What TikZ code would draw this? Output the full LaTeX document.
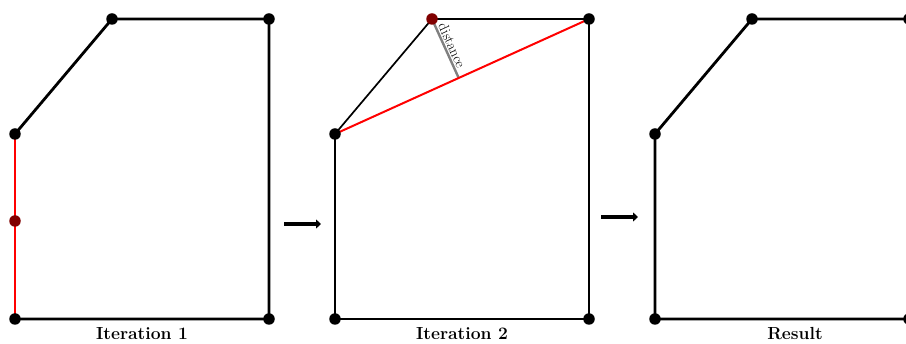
\documentclass[tikz,border=0pt]{standalone}
\usepackage{fontspec}
\setmainfont{Latin Modern Roman}
\usetikzlibrary{arrows.meta,calc}
\definecolor{darkred}{RGB}{128,0,0}
\begin{document}
\begin{tikzpicture}[x=1pt,y=1pt,
  dot/.style={circle,fill=black,inner sep=0pt,minimum size=11.5pt},
  reddot/.style={circle,fill=darkred,inner sep=0pt,minimum size=11.5pt},
  thickedge/.style={line width=2.8pt,line join=round},
  thinedge/.style={line width=1.7pt,line join=round},
  bigarrow/.style={line width=4.4pt,-{Triangle[length=5pt,width=9pt]}},
  captext/.style={font=\fontsize{17.5}{20}\selectfont\bfseries,text=black},
  disttext/.style={font=\fontsize{14.5}{16}\selectfont,text=black,inner sep=1.2pt}]
\useasboundingbox (0,0) rectangle (906,344);
\clip (0,0) rectangle (906,344);
% panel 1
\coordinate (a1) at (15,25);
\coordinate (b1) at (15,210);
\coordinate (c1) at (112,325);
\coordinate (d1) at (269,325);
\coordinate (e1) at (269,25);
\coordinate (m1) at (15,123);
\draw[thickedge] (b1) -- (c1) -- (d1) -- (e1) -- (a1);
\draw[line width=2.8pt,black!70!red] (b1) -- (a1);
\draw[line width=1.8pt,red] (b1) -- (a1);
\foreach \n in {a1,b1,c1,d1,e1} \node[dot] (n\n) at (\n) {};
\node[reddot] (nm1) at (m1) {};
\node[captext,anchor=base] (t1) at (142,4) {Iteration 1};
% arrow 1
\coordinate (p1s) at (284,120);
\coordinate (p1e) at (321,120);
\draw[bigarrow] (p1s) -- (p1e);
% panel 2
\coordinate (a2) at (335,25);
\coordinate (b2) at (335,210);
\coordinate (c2) at (432,325);
\coordinate (d2) at (589,325);
\coordinate (e2) at (589,25);
\coordinate (f2) at ($(b2)!(c2)!(d2)$);
\draw[thinedge] (b2) -- (c2) -- (d2) -- (e2) -- (a2) -- cycle;
\draw[line width=2.4pt,gray] (c2) -- (f2) node[midway,above,sloped,disttext] {distance};
\draw[line width=2pt,red] (b2) -- (d2);
\foreach \n in {a2,b2,d2,e2} \node[dot] (n\n) at (\n) {};
\node[reddot] (nc2) at (c2) {};
\node[captext,anchor=base] (t2) at (462,4) {Iteration 2};
% arrow 2
\coordinate (p2s) at (601,127);
\coordinate (p2e) at (638,127);
\draw[bigarrow] (p2s) -- (p2e);
% panel 3
\coordinate (a3) at (655,25);
\coordinate (b3) at (655,210);
\coordinate (c3) at (752,325);
\coordinate (d3) at (909,325);
\coordinate (e3) at (909,25);
\draw[thickedge] (e3) -- (a3) -- (b3) -- (c3) -- (d3);
\foreach \n in {a3,b3,c3,d3,e3} \node[dot] (n\n) at (\n) {};
\node[captext,anchor=base] (t3) at (795,4) {Result};
\end{tikzpicture}
\end{document}
